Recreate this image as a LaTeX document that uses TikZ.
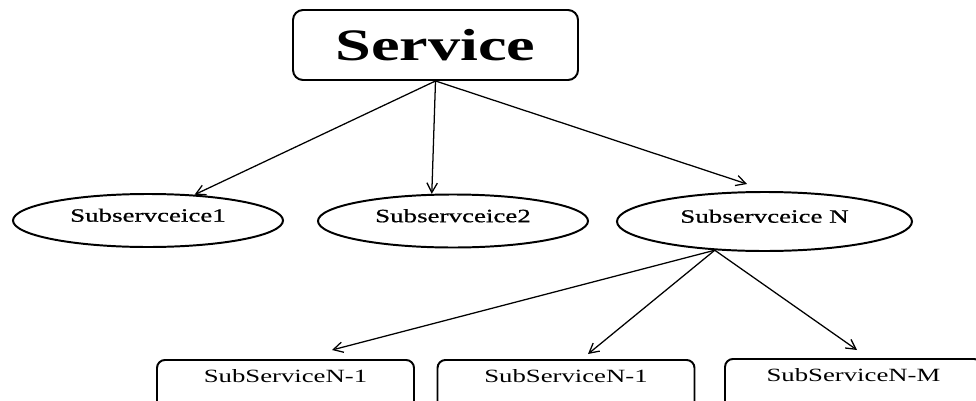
\documentclass[tikz,border=0pt]{standalone}
\usepackage{fontspec}
\setmainfont{Liberation Serif}
\newfontfamily\wideserif[FakeStretch=1.43]{Liberation Serif}
\newfontfamily\wideheavy[FakeStretch=1.43, FakeBold=0.8]{Liberation Serif}
\usetikzlibrary{calc}
\usetikzlibrary{shapes.geometric}
\usetikzlibrary{arrows.meta}

\begin{document}
\begin{tikzpicture}[x=0.25mm, y=-0.25mm, line width=1.4pt, arr/.style = {-{Straight Barb[length=2.4mm, width=2.6mm]}, line width=0.9pt}, main/.style = {draw, rounded corners=2.5mm, minimum width=71.25mm, minimum height=17.5mm, font=\wideserif\bfseries\fontsize{32}{36}\selectfont}, sub/.style = {draw, ellipse, inner sep=0pt, minimum width=67.5mm, minimum height=13.25mm, text height=3.4mm, text depth=2.8mm, font=\wideheavy\fontsize{13.4}{15}\selectfont}, leaf/.style = {draw, rounded corners=2mm, anchor=north, minimum width=64.25mm, inner ysep=0pt, text height=5.75mm, text depth=9.25mm, font=\wideserif\fontsize{13.3}{16}\selectfont}]
        \useasboundingbox (0,0) rectangle (976,400);
        \clip (0,0) rectangle (976,400);
        \node[main] (1) at (435.5,45) {Service};
        \node[sub] (2) at (148,220.5) {Subservceice1};
        \node[sub] (3) at (453,221) {Subservceice2};
        \node[sub, minimum width=73.75mm, minimum height=14.75mm] (4) at (764.5,221.5) {Subservceice N};
        \node[leaf] (5) at (285.5,359) {SubServiceN-1};
        \node[leaf] (6) at (566,359) {SubServiceN-1};
        \node[leaf] (7) at (853.5,358) {SubServiceN-M};
        \coordinate (t4) at ($(4.north)+(-17.5,-7)$);
        \coordinate (t5) at ($(5.north)+(46.5,-9)$);
        \coordinate (t6) at ($(6.north)+(22,-5)$);
        \coordinate (t7) at ($(7.north)+(3.5,-8)$);
        \draw (1.south) [arr] to (2.29);
        \draw (1.south) [arr] to (3.128);
        \draw (1.south) [arr] to (t4);
        \draw (4.210) [arr] to (t5);
        \draw (4.210) [arr] to (t6);
        \draw (4.210) [arr] to (t7);
    \end{tikzpicture}
\end{document}
